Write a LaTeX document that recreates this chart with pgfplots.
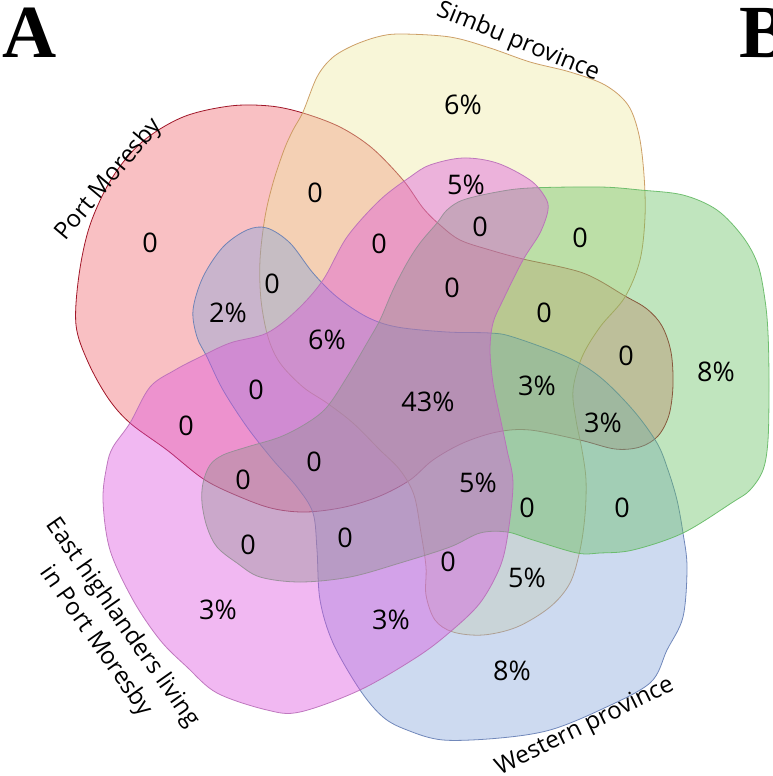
\documentclass[border=0pt]{standalone}
\usepackage{fontspec}
\setmainfont{Open Sans}
\newfontfamily\letterfont{Liberation Serif}
\usepackage{pgfplots}
\pgfplotsset{compat=1.18}

\definecolor{cRed}{RGB}{240,98,105}
\definecolor{cYel}{RGB}{237,232,158}
\definecolor{cGrn}{RGB}{98,190,93}
\definecolor{cBlu}{RGB}{130,162,217}
\definecolor{cMag}{RGB}{220,78,222}
\definecolor{eRed}{RGB}{150,0,20}
\definecolor{eYel}{RGB}{200,150,90}
\definecolor{eGrn}{RGB}{100,185,100}
\definecolor{eBlu}{RGB}{100,125,180}
\definecolor{eMag}{RGB}{185,110,185}

\tikzset{
  num/.style={font=\fontsize{27}{32}\selectfont, text=black},
  lab/.style={font=\fontsize{24}{32}\selectfont, text=black, align=center},
  set/.style={line width=0.8pt, smooth cycle, tension=0.55, fill opacity=0.4, draw opacity=0.9},
}

\begin{document}
\begin{tikzpicture}
\begin{axis}[name=ax, width=773pt, height=776pt, scale only axis,
  xmin=0, xmax=773, ymin=0, ymax=776, y dir=reverse, hide axis, clip=false]

% Port Moresby
\addplot[set, fill=cRed, draw=eRed] coordinates {
(76,325) (79,275) (90,225) (112,178) (142,142) (183,117) (230,106) (270,106)
(303,113) (340,127) (372,148) (403,180) (423,208) (440,225) (460,240) (490,250)
(523,259) (583,273) (625,296) (647,309) (662,326) (671,352) (673,385) (669,415)
(658,436) (640,447) (615,449) (580,440) (530,430) (497,432) (463,443) (433,460)
(410,480) (380,496) (345,507) (307,512) (275,509) (245,499) (205,480) (167,450)
(130,423) (108,398) (88,362)
};

% Simbu province
\addplot[set, fill=cYel, draw=eYel] coordinates {
(303,112) (317,77) (332,58) (352,46) (377,37) (400,34) (450,37) (490,48)
(530,62) (570,72) (605,85) (628,105) (639,135) (644,175) (645,217) (640,260)
(625,297) (600,327) (582,357) (573,390) (576,420) (582,450) (586,480) (585,515)
(580,550) (570,583) (550,607) (517,627) (483,635) (453,632) (435,620) (426,595)
(426,567) (421,533) (414,495) (400,470) (380,450) (353,423) (327,403) (303,387)
(280,363) (268,337) (261,300) (260,260) (265,217) (273,183) (284,150) (293,130)
};

% Western province
\addplot[set, fill=cBlu, draw=eBlu] coordinates {
(360,690) (383,717) (407,730) (443,740) (500,738) (550,730) (600,710) (650,683)
(667,650) (683,617) (687,567) (683,533) (677,500) (668,470) (657,443) (633,410)
(600,377) (567,357) (513,337) (490,333) (447,332) (397,327) (367,317) (337,297)
(313,273) (290,243) (267,228) (247,230) (223,247) (203,277) (193,310) (197,337)
(207,357) (223,390) (247,427) (273,460) (297,487) (313,513) (317,550) (320,600)
(333,643)
};

% green set
\addplot[set, fill=cGrn, draw=eGrn] coordinates {
(437,223) (447,210) (463,200) (497,192) (530,188) (600,187) (640,190) (683,195)
(717,210) (743,237) (758,265) (765,300) (768,333) (769,383) (768,440) (763,470)
(750,490) (733,502) (683,533) (633,550) (600,553) (577,553) (533,540) (507,532)
(480,533) (450,547) (400,563) (350,577) (300,582) (260,577) (237,563) (217,547)
(207,527) (202,503) (203,483) (210,465) (223,455) (247,447) (280,437) (307,423)
(327,407) (347,377) (367,343) (380,320) (393,290) (407,263) (420,243)
};

% East highlanders living in Port Moresby
\addplot[set, fill=cMag, draw=eMag] coordinates {
(300,712) (267,710) (217,693) (187,667) (160,640) (133,600) (110,550) (103,500)
(107,465) (113,447) (130,423) (150,387) (175,370) (200,357) (230,343) (267,333)
(297,310) (323,280) (347,237) (380,200) (410,177) (430,165) (463,158) (497,163)
(530,180) (545,197) (548,210) (540,233) (523,260) (503,300) (493,323) (490,350)
(493,383) (500,417) (507,450) (513,483) (508,533) (500,567) (480,603) (450,632)
(417,657) (360,690)
};

% region counts
\node[num] at (axis cs:150,243) {0};
\node[num] at (axis cs:463,105) {6\%};
\node[num] at (axis cs:315,193) {0};
\node[num] at (axis cs:466,185) {5\%};
\node[num] at (axis cs:480,227) {0};
\node[num] at (axis cs:379,244) {0};
\node[num] at (axis cs:580,238) {0};
\node[num] at (axis cs:272,284) {0};
\node[num] at (axis cs:228,313) {2\%};
\node[num] at (axis cs:452,288) {0};
\node[num] at (axis cs:544,313) {0};
\node[num] at (axis cs:327,340) {6\%};
\node[num] at (axis cs:626,356) {0};
\node[num] at (axis cs:716,372) {8\%};
\node[num] at (axis cs:256,390) {0};
\node[num] at (axis cs:428,402) {43\%};
\node[num] at (axis cs:537,386) {3\%};
\node[num] at (axis cs:603,423) {3\%};
\node[num] at (axis cs:186,426) {0};
\node[num] at (axis cs:314,462) {0};
\node[num] at (axis cs:478,483) {5\%};
\node[num] at (axis cs:243,480) {0};
\node[num] at (axis cs:527,508) {0};
\node[num] at (axis cs:622,508) {0};
\node[num] at (axis cs:248,545) {0};
\node[num] at (axis cs:345,538) {0};
\node[num] at (axis cs:448,562) {0};
\node[num] at (axis cs:527,578) {5\%};
\node[num] at (axis cs:218,610) {3\%};
\node[num] at (axis cs:391,620) {3\%};
\node[num] at (axis cs:512,671) {8\%};

% set names
\node[lab, rotate=50] at (axis cs:109,180) {Port Moresby};
\node[lab, rotate=-22] at (axis cs:518,42) {Simbu province};
\node[lab, rotate=26] at (axis cs:585,727) {Western province};
\node[lab, rotate=-55] at (axis cs:109,632) {East highlanders living\\in Port Moresby};

% panel letters
\node[anchor=base west, inner sep=0pt, font=\letterfont\bfseries\fontsize{75}{80}\selectfont] at (axis cs:2,57) {A};
\node[anchor=base west, inner sep=0pt, font=\letterfont\bfseries\fontsize{75}{80}\selectfont] at (axis cs:739,57) {B};
\end{axis}
\pgfresetboundingbox
\path[use as bounding box] (ax.south west) rectangle (ax.north east);
\end{tikzpicture}
\end{document}
